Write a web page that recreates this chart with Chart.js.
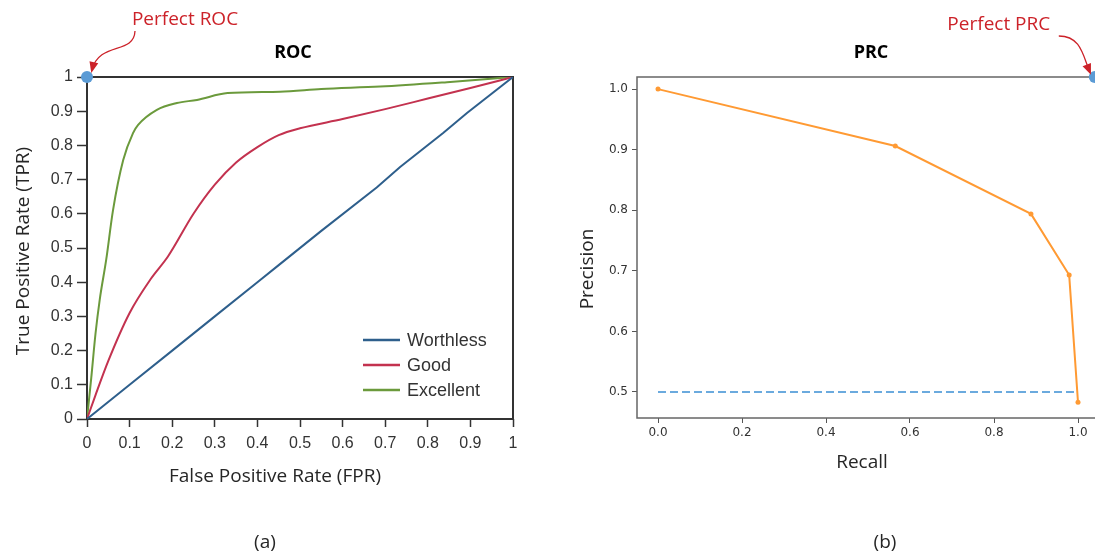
<!DOCTYPE html>
<html>
<head>
<meta charset="utf-8">
<script src="https://cdn.jsdelivr.net/npm/chart.js@4"></script>
<style>
  html, body { margin: 0; padding: 0; background: #fff; overflow: hidden; width: 1095px; height: 554px; }
  #roc { position: absolute; left: 0; top: 0; }
  #prc { position: absolute; left: 560px; top: 0; }
</style>
</head>
<body>
<canvas id="roc" width="530" height="554"></canvas>
<canvas id="prc" width="560" height="554"></canvas>
<script>
// ROC panel
const rocTicks = [0, 0.1, 0.2, 0.3, 0.4, 0.5, 0.6, 0.7, 0.8, 0.9, 1];
const worthlessFpr = [0, 0.1, 0.2, 0.3, 0.4, 0.45, 0.55, 0.68, 0.735, 0.836, 0.892, 1];
const worthlessTpr = [0, 0.1, 0.2, 0.3, 0.4, 0.45, 0.55, 0.677, 0.737, 0.836, 0.895, 1];
const goodFpr = [0, 0.02, 0.05, 0.1, 0.15, 0.19, 0.25, 0.3, 0.35, 0.4, 0.45, 0.5, 0.6, 0.7, 0.8, 0.9, 1];
const goodTpr = [0, 0.07, 0.17, 0.31, 0.41, 0.475, 0.6, 0.685, 0.75, 0.795, 0.83, 0.85, 0.877, 0.906, 0.937, 0.968, 1];
const excellentFpr = [0, 0.01, 0.02, 0.03, 0.045, 0.061, 0.085, 0.108, 0.12, 0.164, 0.211, 0.258, 0.33, 0.453, 0.55, 0.688, 0.845, 1];
const excellentTpr = [0, 0.12, 0.25, 0.35, 0.465, 0.61, 0.757, 0.836, 0.86, 0.904, 0.924, 0.933, 0.953, 0.957, 0.965, 0.972, 0.985, 1];
const perfectRoc = [0, 1];

// PRC panel
const recall = [0, 0.565, 0.888, 0.979, 1.0];
const precision = [1.0, 0.906, 0.794, 0.693, 0.483];
const baselineRecall = [0, 1];
const baselinePrecision = [0.5, 0.5];
const prcXTicks = [0, 0.2, 0.4, 0.6, 0.8, 1.0];
const prcYTicks = [0.5, 0.6, 0.7, 0.8, 0.9, 1.0];
const perfectPrc = [1.04, 1.02];

const pts = (xs, ys) => xs.map((x, i) => ({ x: x, y: ys[i] }));
const RED = '#cc2229';

function drawArrow(ctx, p, c) {
  // c: [sx, sy, c1x, c1y, c2x, c2y, tx, ty] relative to the point
  const [sx, sy, c1x, c1y, c2x, c2y, tx, ty] = c.map((v, i) => v + (i % 2 ? p.y : p.x));
  ctx.save();
  ctx.strokeStyle = RED; ctx.fillStyle = RED; ctx.lineWidth = 1.3;
  ctx.beginPath();
  ctx.moveTo(sx, sy);
  ctx.bezierCurveTo(c1x, c1y, c2x, c2y, tx, ty);
  ctx.stroke();
  const ang = Math.atan2(ty - c2y, tx - c2x);
  ctx.translate(tx, ty); ctx.rotate(ang);
  ctx.beginPath();
  ctx.moveTo(3, 0); ctx.lineTo(-8, -4.5); ctx.lineTo(-8, 4.5); ctx.closePath();
  ctx.fill();
  ctx.restore();
}

function deco(cfg) {
  return {
    id: 'deco',
    beforeDatasetsDraw(chart) {
      const { ctx, chartArea: a } = chart;
      ctx.save();
      ctx.strokeStyle = cfg.frameColor;
      ctx.lineWidth = cfg.frameWidth;
      ctx.strokeRect(a.left, a.top, a.right - a.left, a.bottom - a.top);
      ctx.restore();
    },
    afterDraw(chart) {
      const { ctx, chartArea: a } = chart;
      ctx.save();
      ctx.textAlign = 'center';
      ctx.textBaseline = 'middle';
      ctx.fillStyle = '#000';
      ctx.font = 'bold 18px "Open Sans"';
      ctx.fillText(cfg.title, a.left + cfg.titlePos[0], a.top + cfg.titlePos[1]);
      ctx.fillStyle = '#262626';
      ctx.font = '19px "Open Sans"';
      ctx.fillText(cfg.xTitle, a.left + cfg.xTitlePos[0], a.bottom + cfg.xTitlePos[1]);
      ctx.fillText(cfg.caption, a.left + cfg.captionPos[0], a.bottom + cfg.captionPos[1]);
      ctx.save();
      ctx.translate(a.left + cfg.yTitlePos[0], a.top + cfg.yTitlePos[1]);
      ctx.rotate(-Math.PI / 2);
      ctx.fillText(cfg.yTitle, 0, 0);
      ctx.restore();

      // legend inside plot
      if (cfg.legend) {
        ctx.textAlign = 'left';
        ctx.font = '18px "Liberation Sans"';
        chart.data.datasets.slice(0, 3).forEach((ds, i) => {
          const y = a.bottom - 79 + i * 25;
          const x0 = a.right - 150;
          ctx.strokeStyle = ds.borderColor;
          ctx.lineWidth = 2.5;
          ctx.beginPath(); ctx.moveTo(x0, y); ctx.lineTo(x0 + 37, y); ctx.stroke();
          ctx.fillStyle = '#333';
          ctx.fillText(ds.label, x0 + 44, y + 1);
        });
      }

      // perfect-point annotation
      const meta = chart.getDatasetMeta(chart.data.datasets.length - 1);
      const p = meta.data[0];
      ctx.textAlign = 'center';
      ctx.fillStyle = RED;
      ctx.font = '19px "Open Sans"';
      ctx.fillText(cfg.note, p.x + cfg.notePos[0], p.y + cfg.notePos[1]);
      drawArrow(ctx, p, cfg.arrow);
      ctx.restore();
    }
  };
}

new Chart(document.getElementById('roc'), {
  type: 'line',
  data: {
    datasets: [
      { label: 'Worthless', data: pts(worthlessFpr, worthlessTpr), borderColor: '#2e5f8c',
        cubicInterpolationMode: 'default', tension: 0 },
      { label: 'Good', data: pts(goodFpr, goodTpr), borderColor: '#c3324f' },
      { label: 'Excellent', data: pts(excellentFpr, excellentTpr), borderColor: '#6b9a3c' },
      { label: 'Perfect ROC', data: pts([perfectRoc[0]], [perfectRoc[1]]), showLine: false,
        pointRadius: 6, pointBackgroundColor: '#5b9bd5', pointBorderWidth: 0, clip: false }
    ]
  },
  options: {
    responsive: false,
    animation: false,
    layout: { padding: { top: 77, right: 17, bottom: 67, left: 0 } },
    plugins: { legend: { display: false }, tooltip: { enabled: false } },
    elements: {
      point: { radius: 0 },
      line: { borderWidth: 2, cubicInterpolationMode: 'monotone' }
    },
    scales: {
      x: {
        type: 'linear', min: 0, max: 1,
        afterFit: s => { s.height = 68; },
        afterBuildTicks: s => { s.ticks = rocTicks.map(v => ({ value: v })); },
        ticks: { callback: v => String(+v.toFixed(1)), font: { family: 'Liberation Sans', size: 16 },
                 color: '#333', padding: 7, maxRotation: 0, autoSkip: false },
        grid: { drawOnChartArea: false, tickLength: 8, tickColor: '#333', tickWidth: 1.5 },
        border: { display: false }
      },
      y: {
        type: 'linear', min: 0, max: 1,
        afterFit: s => { s.width = 87; },
        afterBuildTicks: s => { s.ticks = rocTicks.map(v => ({ value: v })); },
        ticks: { callback: v => String(+v.toFixed(1)), font: { family: 'Liberation Sans', size: 16 },
                 color: '#333', padding: 4, autoSkip: false },
        grid: { drawOnChartArea: false, tickLength: 10, tickColor: '#333', tickWidth: 1.5 },
        border: { display: false }
      }
    }
  },
  plugins: [deco({
    frameColor: '#333', frameWidth: 2, legend: true,
    title: 'ROC', titlePos: [206, -24],
    xTitle: 'False Positive Rate (FPR)', xTitlePos: [188, 58],
    yTitle: 'True Positive Rate (TPR)', yTitlePos: [-63, 174],
    caption: '(a)', captionPos: [178, 124],
    note: 'Perfect ROC', notePos: [98, -57],
    arrow: [48, -46, 47, -22, 12, -36, 5, -7]
  })]
});

new Chart(document.getElementById('prc'), {
  type: 'line',
  data: {
    datasets: [
      { label: 'Baseline', data: pts(baselineRecall, baselinePrecision), borderColor: '#3b8fd4',
        borderWidth: 1.6, borderDash: [8, 4], pointRadius: 0 },
      { label: 'PRC', data: pts(recall, precision), borderColor: '#ff9a33', borderWidth: 2,
        pointRadius: 2.5, pointBackgroundColor: '#ff9a33', pointBorderWidth: 0 },
      { label: 'Perfect PRC', data: pts([perfectPrc[0]], [perfectPrc[1]]), showLine: false,
        pointRadius: 6, pointBackgroundColor: '#5b9bd5', pointBorderWidth: 0, clip: false }
    ]
  },
  options: {
    responsive: false,
    animation: false,
    layout: { padding: { top: 77, right: 21, bottom: 80, left: 0 } },
    plugins: { legend: { display: false }, tooltip: { enabled: false } },
    scales: {
      x: {
        type: 'linear', min: -0.05, max: 1.05,
        afterFit: s => { s.height = 56; },
        afterBuildTicks: s => { s.ticks = prcXTicks.map(v => ({ value: v })); },
        ticks: { callback: v => v.toFixed(1), font: { family: 'DejaVu Sans', size: 12 },
                 color: '#333', padding: 3, maxRotation: 0, autoSkip: false },
        grid: { drawOnChartArea: false, tickLength: 5, tickColor: '#555', tickWidth: 1 },
        border: { display: false }
      },
      y: {
        type: 'linear', min: 0.457, max: 1.02,
        afterFit: s => { s.width = 77; },
        afterBuildTicks: s => { s.ticks = prcYTicks.map(v => ({ value: v })); },
        ticks: { callback: v => v.toFixed(1), font: { family: 'DejaVu Sans', size: 12 },
                 color: '#333', padding: 4, autoSkip: false },
        grid: { drawOnChartArea: false, tickLength: 5, tickColor: '#555', tickWidth: 1 },
        border: { display: false }
      }
    }
  },
  plugins: [deco({
    frameColor: '#666', frameWidth: 1.5, legend: false,
    title: 'PRC', titlePos: [234, -24],
    xTitle: 'Recall', xTitlePos: [225, 45],
    yTitle: 'Precision', yTitlePos: [-49, 192],
    caption: '(b)', captionPos: [248, 125],
    note: 'Perfect PRC', notePos: [-96, -52],
    arrow: [-36, -41, -14, -41, -12, -22, -5, -5]
  })]
});
</script>
</body>
</html>
